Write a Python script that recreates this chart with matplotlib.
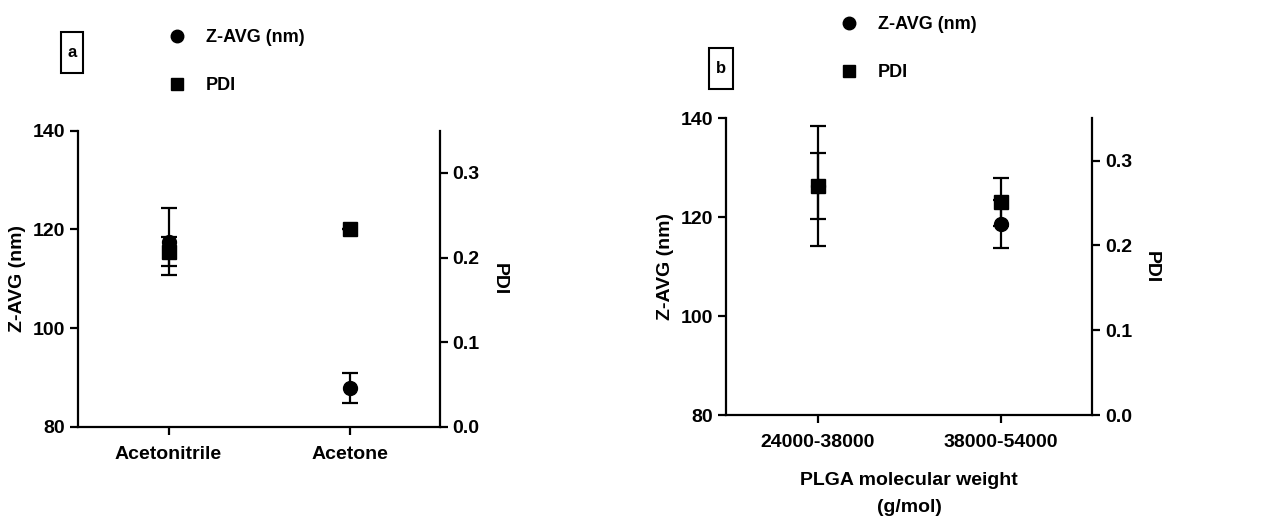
import matplotlib
matplotlib.use("Agg")
import matplotlib.pyplot as plt
from matplotlib.lines import Line2D
from matplotlib.patches import Rectangle

plt.rcParams['font.family'] = ['Liberation Sans', 'DejaVu Sans']
plt.rcParams['font.weight'] = 'bold'

# ---- data ----
cats_a = ["Acetonitrile", "Acetone"]
zavg_a = [117.5, 87.8]
zavg_err_a = [6.8, 3.0]
pdi_a = [0.207, 0.234]
pdi_err_a = [0.017, 0.0]

cats_b = ["24000-38000", "38000-54000"]
zavg_b = [126.3, 118.6]
zavg_err_b = [12.1, 4.8]
pdi_b = [0.270, 0.251]
pdi_err_b = [0.039, 0.028]

zticks = [80, 100, 120, 140]
pticks = [0.0, 0.1, 0.2, 0.3]

W, H = 1275, 517
fig = plt.figure(figsize=(W / 100, H / 100), dpi=100)

FS = 14
LW = 1.6


def panel(rect, cats, z, zerr, p, perr, letter, box, leg_anchor, xlabel=None):
    ax = fig.add_axes(rect)
    ax2 = ax.twinx()
    xs = list(range(len(cats)))
    ax.errorbar(xs, z, yerr=zerr, fmt='o', color='black', ms=10, elinewidth=LW,
                capsize=6, capthick=LW, zorder=3)
    ax2.errorbar(xs, p, yerr=perr, fmt='s', color='black', ms=10.5, elinewidth=LW,
                 capsize=6, capthick=LW, zorder=4)
    ax.set_xlim(-0.5, 1.5)
    ax.set_ylim(80, 140)
    ax2.set_ylim(0, 0.35)
    ax.set_yticks(zticks)
    ax.set_yticklabels([str(t) for t in zticks])
    ax2.set_yticks(pticks)
    ax2.set_yticklabels([f"{t:.1f}" for t in pticks])
    ax.set_xticks(xs)
    ax.set_xticklabels(cats)
    for a in (ax, ax2):
        a.spines['top'].set_visible(False)
        for s in a.spines.values():
            s.set_linewidth(LW)
        a.tick_params(width=LW, length=6, labelsize=FS, pad=3)
    ax.spines['right'].set_visible(False)
    ax2.spines['left'].set_visible(False)
    ax2.spines['bottom'].set_visible(False)
    ax.tick_params(axis='x', pad=8)
    ax.set_ylabel("Z-AVG (nm)", fontsize=FS, fontweight='bold', labelpad=5)
    ax2.set_ylabel("PDI", fontsize=FS, fontweight='bold', rotation=270, labelpad=20)
    if xlabel:
        ax.set_xlabel(xlabel, fontsize=FS, fontweight='bold', labelpad=15, linespacing=1.75)
    # letter box
    x0, y0, x1, y1 = box
    fig.add_artist(Rectangle((x0 / W, 1 - y1 / H), (x1 - x0) / W, (y1 - y0) / H,
                             transform=fig.transFigure, fill=False, lw=1.5, ec='black'))
    fig.text((x0 + x1) / 2 / W, 1 - (y0 + y1) / 2 / H, letter, ha='center', va='center',
             fontsize=12, fontweight='bold')
    handles = [Line2D([], [], marker='o', color='black', ls='none', ms=9),
               Line2D([], [], marker='s', color='black', ls='none', ms=9)]
    fig.legend(handles, ["Z-AVG (nm)", "PDI"], loc='upper left',
               bbox_to_anchor=(leg_anchor[0] / W, 1 - leg_anchor[1] / H),
               frameon=False, handlelength=1.0, handletextpad=1.1,
               labelspacing=1.72, borderpad=0, borderaxespad=0,
               prop={'weight': 'bold', 'size': 13})
    return ax, ax2


panel([78 / W, 1 - 426.7 / H, (440 - 78) / W, (426.7 - 130.7) / H],
      cats_a, zavg_a, zavg_err_a, pdi_a, pdi_err_a, 'a', (61, 32, 83, 73), (168, 29))
panel([726 / W, 1 - 415 / H, (1092.3 - 726) / W, (415 - 118.3) / H],
      cats_b, zavg_b, zavg_err_b, pdi_b, pdi_err_b, 'b', (709, 48, 733, 89), (840, 16),
      xlabel="PLGA molecular weight\n(g/mol)")

fig.savefig("out.png", dpi=100)
